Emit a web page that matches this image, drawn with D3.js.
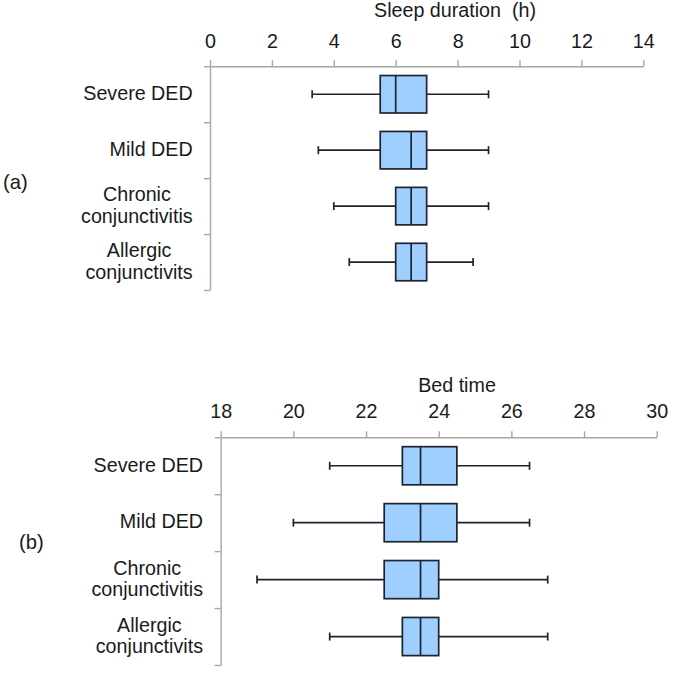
<!DOCTYPE html>
<html>
<head>
<meta charset="utf-8">
<script src="https://cdn.jsdelivr.net/npm/d3@7"></script>
<style>
  html, body { margin: 0; padding: 0; background: #fff; }
  svg { display: block; }
  text { font-family: "Liberation Sans", Arial, sans-serif; fill: #1a1a1a; }
</style>
</head>
<body>
<svg id="chart" width="675" height="677"></svg>
<script>
// ---- Data ----
const categories = ["Severe DED", "Mild DED", "Chronic conjunctivitis", "Allergic conjunctivits"];
const categoryLines = [["Severe DED"], ["Mild DED"], ["Chronic", "conjunctivitis"], ["Allergic", "conjunctivits"]];

const sleepMin    = [3.3, 3.5, 4.0, 4.5];
const sleepQ1     = [5.5, 5.5, 6.0, 6.0];
const sleepMedian = [6.0, 6.5, 6.5, 6.5];
const sleepQ3     = [7.0, 7.0, 7.0, 7.0];
const sleepMax    = [9.0, 9.0, 9.0, 8.5];
const sleepTicks  = [0, 2, 4, 6, 8, 10, 12, 14];

const bedMin    = [21.0, 20.0, 19.0, 21.0];
const bedQ1     = [23.0, 22.5, 22.5, 23.0];
const bedMedian = [23.5, 23.5, 23.5, 23.5];
const bedQ3     = [24.5, 24.5, 24.0, 24.0];
const bedMax    = [26.5, 26.5, 27.0, 27.0];
const bedTicks  = [18, 20, 22, 24, 26, 28, 30];

// ---- Drawing ----
const svg = d3.select("#chart");
const AXIS_COLOR = "#a6a6a6";
const BOX_FILL = "#9fcfff";
const BOX_STROKE = "#1f2230";
const FONT = 19.7;

function panel(cfg) {
  const g = svg.append("g");
  const x = d3.scaleLinear().domain([cfg.ticks[0], cfg.ticks[cfg.ticks.length - 1]]).range([cfg.left, cfg.right]);
  const yb = d3.scaleBand().domain(categories).range([cfg.top, cfg.bottom]).padding(0);
  const yl = d3.scaleLinear().domain([0, categories.length]).range([cfg.top, cfg.bottom]);

  // top axis
  const ax = g.append("g").attr("transform", `translate(0,${cfg.top})`)
    .call(d3.axisTop(x).tickValues(cfg.ticks).tickSize(6).tickSizeOuter(0).tickPadding(cfg.tickPad));
  ax.select(".domain").attr("stroke", AXIS_COLOR).attr("stroke-width", 1.4);
  ax.selectAll(".tick line").attr("stroke", AXIS_COLOR).attr("stroke-width", 1.4);
  ax.selectAll(".tick text").attr("font-size", FONT).attr("fill", "#1a1a1a")
    .attr("font-family", "Liberation Sans, Arial, sans-serif");

  // left axis with ticks at category boundaries
  const ay = g.append("g").attr("transform", `translate(${cfg.left},0)`)
    .call(d3.axisLeft(yl).tickValues(d3.range(categories.length + 1)).tickFormat("").tickSize(6).tickSizeOuter(0));
  ay.select(".domain").attr("stroke", AXIS_COLOR).attr("stroke-width", 1.4);
  ay.selectAll(".tick line").attr("stroke", AXIS_COLOR).attr("stroke-width", 1.4);

  // title
  g.append("text").attr("x", cfg.titleX).attr("y", cfg.titleY).attr("text-anchor", "middle")
    .attr("font-size", FONT).text(cfg.title);

  // panel letter
  g.append("text").attr("x", cfg.letterX).attr("y", cfg.letterY).attr("font-size", FONT + 0.5).text(cfg.letter);

  // category labels
  const lh = 21.6;
  categoryLines.forEach((lines, i) => {
    const cy = yb(categories[i]) + yb.bandwidth() / 2;
    const t = g.append("text").attr("font-size", FONT).attr("text-anchor", "middle");
    const y0 = cy + 5.8 - (lines.length - 1) * lh / 2;
    const spans = lines.map((ln, k) => t.append("tspan").attr("y", y0 + k * lh).text(ln));
    const maxW = d3.max(spans, s => s.node().getComputedTextLength());
    spans.forEach(s => s.attr("x", cfg.labelRight - maxW / 2));
  });

  // boxes
  const bh = yb.bandwidth() * 0.67;
  const cap = 8;
  categories.forEach((c, i) => {
    const cy = yb(c) + yb.bandwidth() / 2;
    const bg = g.append("g").attr("stroke", BOX_STROKE).attr("stroke-width", 1.7);
    // whiskers
    bg.append("line").attr("x1", x(cfg.min[i])).attr("x2", x(cfg.q1[i])).attr("y1", cy).attr("y2", cy);
    bg.append("line").attr("x1", x(cfg.q3[i])).attr("x2", x(cfg.max[i])).attr("y1", cy).attr("y2", cy);
    bg.append("line").attr("x1", x(cfg.min[i])).attr("x2", x(cfg.min[i])).attr("y1", cy - cap / 2).attr("y2", cy + cap / 2);
    bg.append("line").attr("x1", x(cfg.max[i])).attr("x2", x(cfg.max[i])).attr("y1", cy - cap / 2).attr("y2", cy + cap / 2);
    // box
    bg.append("rect").attr("x", x(cfg.q1[i])).attr("y", cy - bh / 2)
      .attr("width", x(cfg.q3[i]) - x(cfg.q1[i])).attr("height", bh).attr("fill", BOX_FILL);
    // median
    bg.append("line").attr("x1", x(cfg.med[i])).attr("x2", x(cfg.med[i])).attr("y1", cy - bh / 2).attr("y2", cy + bh / 2);
  });
}

panel({
  ticks: sleepTicks, min: sleepMin, q1: sleepQ1, med: sleepMedian, q3: sleepQ3, max: sleepMax,
  left: 210, right: 643.3, top: 66.3, bottom: 290, tickPad: 12,
  title: "Sleep duration\u00a0 (h)", titleX: 455, titleY: 16.5,
  letter: "(a)", letterX: 3, letterY: 189, labelRight: 192.7
});

panel({
  ticks: bedTicks, min: bedMin, q1: bedQ1, med: bedMedian, q3: bedQ3, max: bedMax,
  left: 220.7, right: 656.7, top: 437.3, bottom: 665, tickPad: 13,
  title: "Bed time", titleX: 457, titleY: 391.5,
  letter: "(b)", letterX: 19, letterY: 549, labelRight: 203
});
</script>
</body>
</html>
